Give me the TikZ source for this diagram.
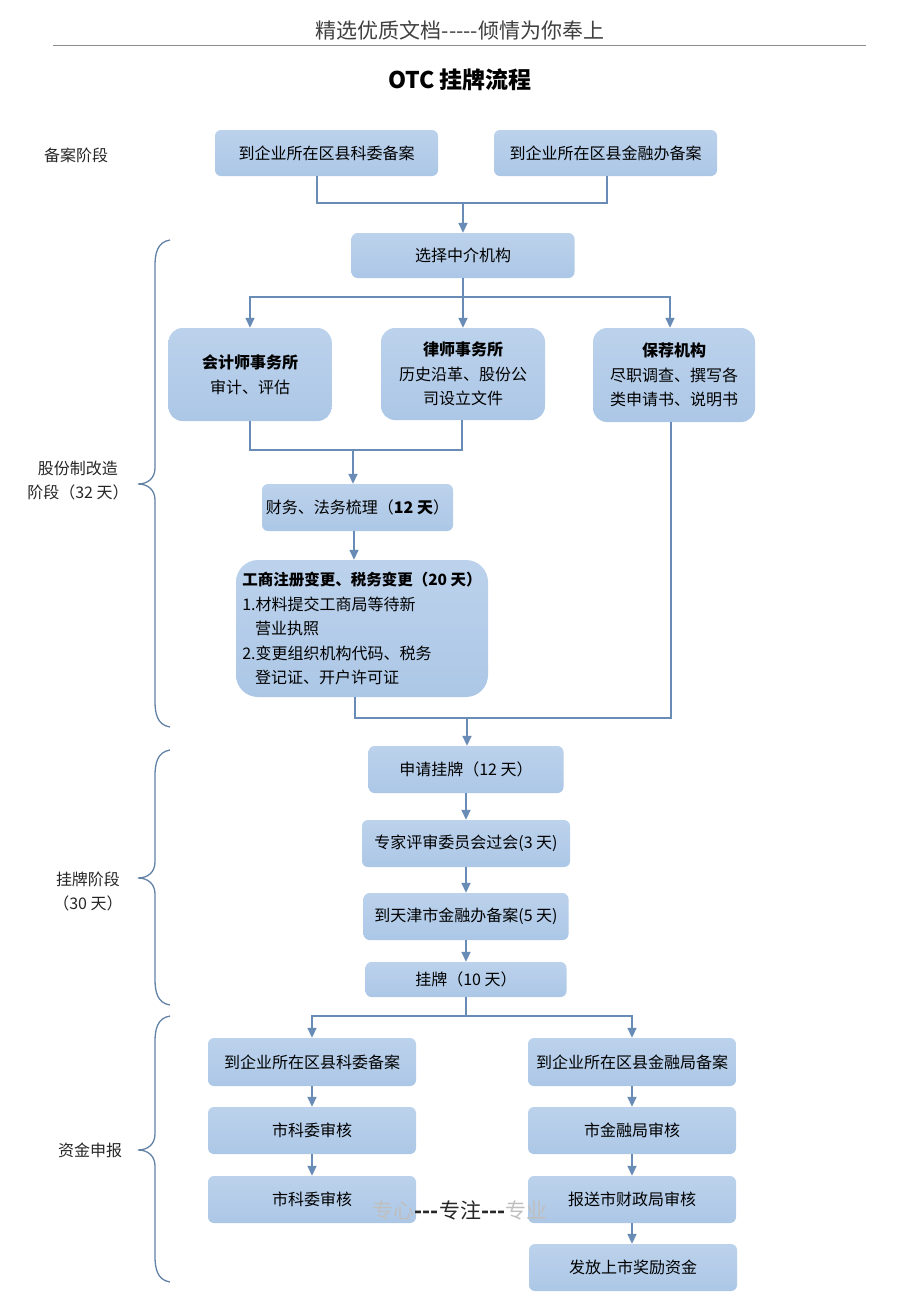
\documentclass[tikz,border=0pt]{standalone}
\usepackage{fontspec}
\setmainfont{Noto Sans CJK SC}
\usetikzlibrary{arrows.meta,calc}
\definecolor{boxtop}{RGB}{188,210,236}
\definecolor{boxbot}{RGB}{172,199,230}
\definecolor{lnc}{RGB}{104,140,182}
\definecolor{brc}{RGB}{98,130,166}
\tikzset{
  box/.style={rounded corners=6pt, top color=boxtop, bottom color=boxbot, draw=none, inner sep=0pt, align=center, font=\fontsize{16}{24.5}\selectfont},
  line/.style={draw=lnc, line width=1.7pt},
  arr/.style={line, -{Triangle[length=10pt,width=9pt]}},
  brace/.style={draw=brc, line width=1.3pt},
  lbl/.style={align=center, font=\fontsize{16}{24}\selectfont, text=black!85}
}
\newcommand\mybrace[3]{%
  \draw[brace] (170,#1) .. controls (157,#1+2) and (155,#1+14) .. (155,#1+26)
    -- (155,#2-16) .. controls (155,#2-6) and (148,#2) .. (138,#2)
    .. controls (148,#2) and (155,#2+6) .. (155,#2+16)
    -- (155,#3-26) .. controls (155,#3-14) and (157,#3-2) .. (170,#3);}
\begin{document}
\begin{tikzpicture}[x=1pt,y=-1pt]
\useasboundingbox[fill=white] (0,0) rectangle (920,1302);
% header
\node[font=\fontsize{21}{24}\selectfont, text=black!75] (hdr) at (460,30) {精选优质文档-{}-{}-{}-{}-倾情为你奉上};
\draw[black!45, line width=1pt] (53,45) -- (866,45);
\node[font=\fontsize{23}{26}\selectfont\bfseries] (title) at (460,80) {OTC 挂牌流程};
% stage labels
\node[lbl] (L1) at (76,155) {备案阶段};
\node[lbl] (L2) at (78,481) {股份制改造\\阶段（32 天）};
\node[lbl] (L3) at (88,891) {挂牌阶段\\（30 天）};
\node[lbl] (L4) at (90,1150) {资金申报};
\mybrace{240}{484}{727}
\mybrace{750}{878}{1005}
\mybrace{1016}{1150}{1282}
% boxes
\node[box, minimum width=223pt, minimum height=46pt] (A1) at (326.5,153) {到企业所在区县科委备案};
\node[box, minimum width=223pt, minimum height=46pt] (A2) at (605.5,153) {到企业所在区县金融办备案};
\node[box, minimum width=223pt, minimum height=45pt] (B) at (463,255.5) {选择中介机构};
\node[box, rounded corners=14pt, minimum width=163pt, minimum height=93pt] (C1) at (250,374.5) {\textbf{会计师事务所}\\审计、评估};
\node[box, rounded corners=14pt, minimum width=164pt, minimum height=92pt] (C2) at (463,374) {\textbf{律师事务所}\\历史沿革、股份公\\司设立文件};
\node[box, rounded corners=14pt, minimum width=162pt, minimum height=94pt] (C3) at (674,375) {\textbf{保荐机构}\\尽职调查、撰写各\\类申请书、说明书};
\node[box, minimum width=191pt, minimum height=47pt] (D) at (357.5,507.5) {财务、法务梳理（\textbf{12 天}）};
\node[box, rounded corners=22pt, align=left, minimum width=252pt, minimum height=137pt] (E) at (362,628.5) {{\fontsize{15.5}{24.5}\selectfont\bfseries 工商注册变更、税务变更（20 天）}\\1.材料提交工商局等待新\\\hspace*{0.8em}营业执照\\2.变更组织机构代码、税务\\\hspace*{0.8em}登记证、开户许可证};
\node[box, minimum width=195pt, minimum height=47pt] (F) at (466,769.5) {申请挂牌（12 天）};
\node[box, minimum width=208pt, minimum height=47pt] (G) at (466,843.5) {专家评审委员会过会(3 天)};
\node[box, minimum width=205pt, minimum height=47pt] (H) at (466,916.5) {到天津市金融办备案(5 天)};
\node[box, minimum width=201pt, minimum height=35pt] (I) at (466,979.5) {挂牌（10 天）};
\node[box, minimum width=208pt, minimum height=48pt] (J1) at (312,1062) {到企业所在区县科委备案};
\node[box, minimum width=208pt, minimum height=47pt] (J2) at (312,1130.5) {市科委审核};
\node[box, minimum width=208pt, minimum height=47pt] (J3) at (312,1199.5) {市科委审核};
\node[box, minimum width=208pt, minimum height=48pt] (K1) at (632,1062) {到企业所在区县金融局备案};
\node[box, minimum width=208pt, minimum height=47pt] (K2) at (632,1130.5) {市金融局审核};
\node[box, minimum width=208pt, minimum height=47pt] (K3) at (632,1199.5) {报送市财政局审核};
\node[box, minimum width=208pt, minimum height=47pt] (K4) at (633,1267.5) {发放上市奖励资金};
% junction points
\coordinate (j1) at (463,203);
\coordinate (j2) at (463,297);
\coordinate (j3) at (353,450);
\coordinate (j4) at (467,718);
\coordinate (j5) at (466,1016);
% connectors
\draw[line] ([xshift=-9.5pt]A1.south) |- (j1);
\draw[line] ([xshift=1.5pt]A2.south) |- (j1);
\draw[arr] (j1) -- (B.north);
\draw[line] (B.south) -- (j2);
\draw[arr] (j2) -| (C1.north);
\draw[arr] (j2) -- (C2.north);
\draw[arr] (j2) -| ([xshift=-4pt]C3.north);
\draw[line] (C1.south) |- (j3);
\draw[line] ([xshift=-1pt]C2.south) |- (j3);
\draw[arr] (j3) -- (j3 |- D.north);
\draw[arr] ([xshift=-3.5pt]D.south) -- ([xshift=-8pt]E.north);
\draw[line] ([xshift=-7pt]E.south) |- (j4);
\draw[line] ([xshift=-3pt]C3.south) |- (j4);
\draw[arr] (j4) -- (j4 |- F.north);
\draw[arr] (F.south) -- (G.north);
\draw[arr] (G.south) -- (H.north);
\draw[arr] (H.south) -- (I.north);
\draw[line] (I.south) -- (j5);
\draw[arr] (j5) -| (J1.north);
\draw[arr] (j5) -| (K1.north);
\draw[arr] (J1.south) -- (J2.north);
\draw[arr] (J2.south) -- (J3.north);
\draw[arr] (K1.south) -- (K2.north);
\draw[arr] (K2.south) -- (K3.north);
\draw[arr] (K3.south) -- (K3.south |- K4.north);
% watermark
\node[font=\fontsize{21}{24}\selectfont, inner sep=0pt] (wm) at (460,1210) {\textcolor{black!25}{专心}\textcolor{black!85}{\textbf{-{}-{}-}专注\textbf{-{}-{}-}}\textcolor{black!25}{专业}};
\end{tikzpicture}
\end{document}
